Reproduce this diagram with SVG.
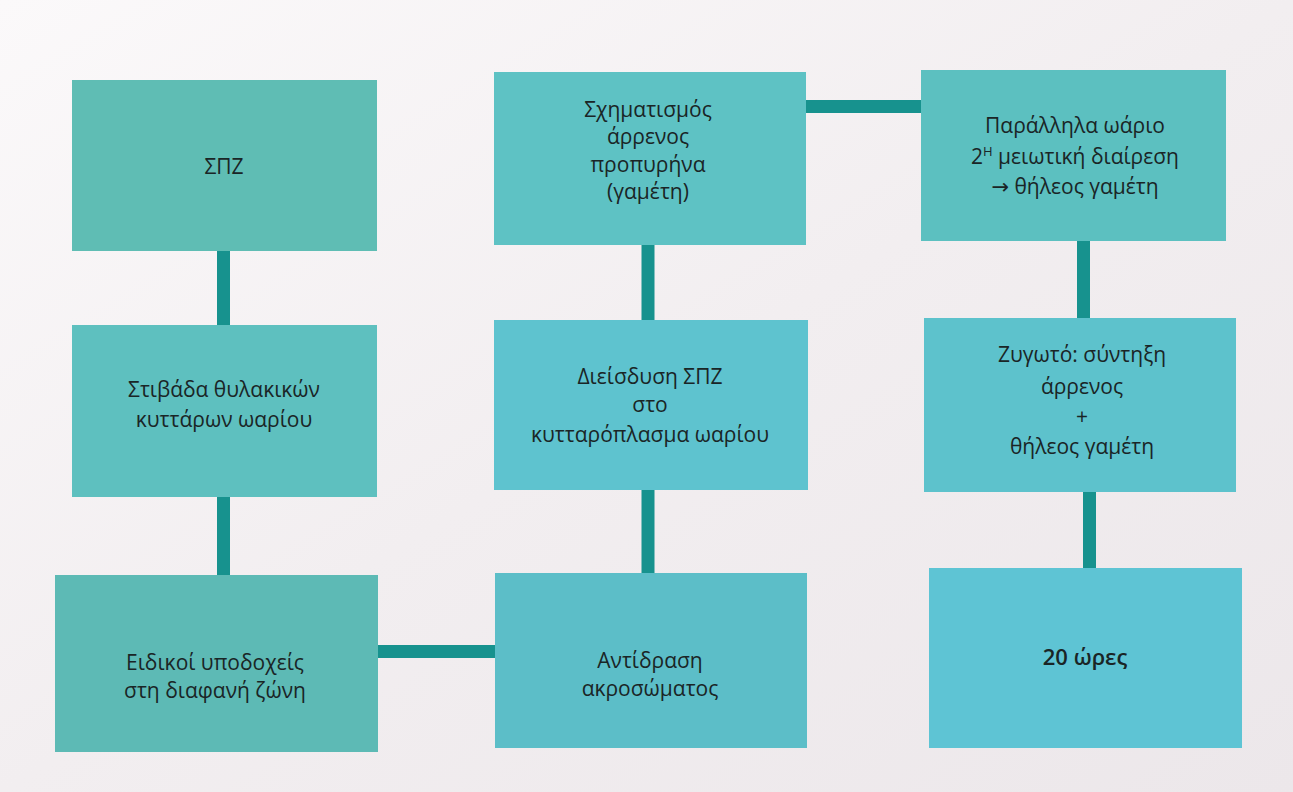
<svg xmlns="http://www.w3.org/2000/svg" width="1293" height="792" viewBox="0 0 1293 792">
  <defs>
    <linearGradient id="bg" x1="0" y1="0" x2="1" y2="1">
      <stop offset="0" stop-color="#fbf9fa"/>
      <stop offset="0.5" stop-color="#f2eef0"/>
      <stop offset="1" stop-color="#ece7ea"/>
    </linearGradient>
  </defs>
  <style>
    .box { stroke: none; }
    .t { font-family: "Open Sans", "Noto Sans", "DejaVu Sans", sans-serif; font-size: 21px; fill: #1a2526; text-anchor: middle; }
    .b { font-weight: 600; font-size: 22px; }
    .conn line { stroke: #17928e; stroke-width: 13; stroke-linecap: butt; }
  </style>
  <rect x="0" y="0" width="1293" height="792" fill="url(#bg)"/>

  <g id="connectors" class="conn">
    <line x1="223.5" y1="250" x2="223.5" y2="326"/>
    <line x1="223.5" y1="496" x2="223.5" y2="576"/>
    <line x1="377" y1="651.5" x2="496" y2="651.5"/>
    <line x1="648" y1="244" x2="648" y2="321"/>
    <line x1="648" y1="489" x2="648" y2="574"/>
    <line x1="805" y1="106.5" x2="922" y2="106.5"/>
    <line x1="1083.5" y1="240" x2="1083.5" y2="319"/>
    <line x1="1089.5" y1="491" x2="1089.5" y2="569"/>
  </g>

  <g id="node-spz">
    <rect class="box" x="72" y="80" width="305" height="171" fill="#5fbdb4"/>
    <text class="t" x="224" y="174">ΣΠΖ</text>
  </g>
  <g id="node-stivada">
    <rect class="box" x="72" y="325" width="305" height="172" fill="#5ec0bf"/>
    <text class="t" x="224" y="397">Στιβάδα θυλακικών</text>
    <text class="t" x="224" y="427">κυττάρων ωαρίου</text>
  </g>
  <g id="node-eidikoi">
    <rect class="box" x="55" y="575" width="323" height="177" fill="#5dbab5"/>
    <text class="t" x="215" y="670">Ειδικοί υποδοχείς</text>
    <text class="t" x="215" y="698">στη διαφανή ζώνη</text>
  </g>
  <g id="node-schimatismos">
    <rect class="box" x="494" y="72" width="312" height="173" fill="#5ec2c4"/>
    <text class="t" x="648" y="117">Σχηματισμός</text>
    <text class="t" x="648" y="144">άρρενος</text>
    <text class="t" x="648" y="172">προπυρήνα</text>
    <text class="t" x="648" y="199">(γαμέτη)</text>
  </g>
  <g id="node-dieisdysi">
    <rect class="box" x="494" y="320" width="314" height="170" fill="#5ec3cf"/>
    <text class="t" x="650" y="384">Διείσδυση ΣΠΖ</text>
    <text class="t" x="650" y="412">στο</text>
    <text class="t" x="650" y="442">κυτταρόπλασμα ωαρίου</text>
  </g>
  <g id="node-antidrasi">
    <rect class="box" x="495" y="573" width="312" height="175" fill="#5cbec8"/>
    <text class="t" x="650" y="668">Αντίδραση</text>
    <text class="t" x="650" y="696">ακροσώματος</text>
  </g>
  <g id="node-parallila">
    <rect class="box" x="921" y="70" width="305" height="171" fill="#5cc0c0"/>
    <text class="t" x="1075" y="133">Παράλληλα ωάριο</text>
    <text class="t" x="1075" y="164">2<tspan font-size="13" dy="-8">Η</tspan><tspan dy="8"> μειωτική διαίρεση</tspan></text>
    <text class="t" x="1075" y="194">→ θήλεος γαμέτη</text>
  </g>
  <g id="node-zygoto">
    <rect class="box" x="924" y="318" width="312" height="174" fill="#5dc2cc"/>
    <text class="t" x="1082" y="362">Ζυγωτό: σύντηξη</text>
    <text class="t" x="1082" y="394">άρρενος</text>
    <text class="t" x="1082" y="424">+</text>
    <text class="t" x="1082" y="454">θήλεος γαμέτη</text>
  </g>
  <g id="node-20ores">
    <rect class="box" x="929" y="568" width="313" height="180" fill="#5ec4d4"/>
    <text class="t b" x="1085" y="665">20 ώρες</text>
  </g>
</svg>
